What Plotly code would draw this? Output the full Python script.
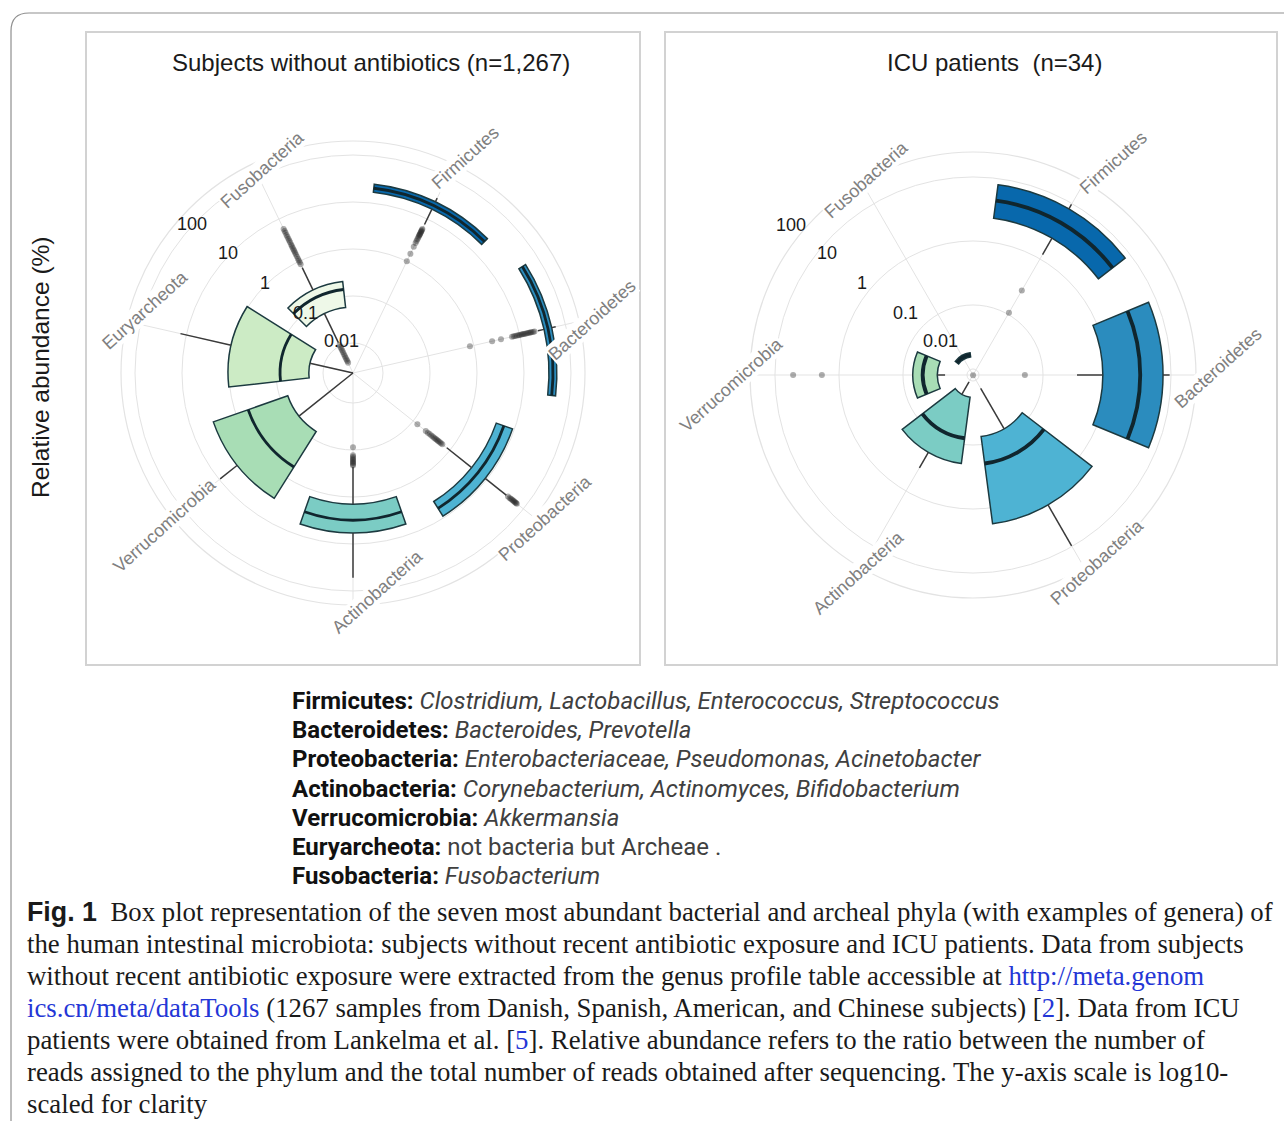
import numpy as np
import plotly.graph_objects as go

W, H = 1284, 1121

# ---------------- data: relative abundance (%) box-plot summaries ----------------
healthy_phyla = ["Firmicutes", "Bacteroidetes", "Proteobacteria", "Actinobacteria",
                 "Verrucomicrobia", "Euryarcheota", "Fusobacteria"]
healthy_whisker_low = [7.4, 25.0, 0.82, 0.23, 0.0023, 0.0023, 0.012]
healthy_q1 = [17.1, 34.0, 3.9, 1.41, 0.068, 0.020, 0.058]
healthy_median = [20.8, 41.4, 5.8, 3.09, 0.53, 0.082, 0.141]
healthy_q3 = [25.4, 50.0, 9.1, 5.84, 3.24, 1.05, 0.209]
healthy_whisker_high = [30.9, 61.0, 34.0, 52.0, 9.5, 13.4, 0.71]

healthy_outliers_firmicutes = [5.8, 5.5, 5.2, 5.0, 4.8, 4.5, 4.3, 4.1, 3.9, 3.6, 3.3, 3.0,
                               2.7, 2.2, 1.5, 1.0]
healthy_outliers_bacteroidetes = [21.0, 19.5, 18.0, 17.0, 16.0, 15.0, 14.0, 13.0, 12.2, 11.5,
                                  10.8, 10.0, 9.4, 8.7, 8.0, 7.4, 6.8, 3.9, 2.5, 0.82]
healthy_outliers_proteobacteria = [0.62, 0.57, 0.53, 0.49, 0.46, 0.43, 0.40, 0.37, 0.34, 0.31,
                                   0.28, 0.25, 0.22, 0.13,
                                   38.0, 42.0, 45.0, 48.0, 51.0, 54.0, 57.0, 60.0, 63.0, 66.0]
healthy_outliers_actinobacteria = [0.215, 0.20, 0.19, 0.18, 0.17, 0.16, 0.15, 0.14, 0.13, 0.087]
healthy_outliers_fusobacteria = [0.85, 0.95, 1.05, 1.15, 1.3, 1.45, 1.6, 1.75, 1.9, 2.1, 2.3,
                                 2.5, 2.8, 3.1, 3.4, 3.8, 4.2, 4.7, 5.2, 5.8,
                                 0.0105, 0.0095, 0.0086, 0.0078, 0.0071, 0.0064, 0.0058,
                                 0.0053, 0.0048, 0.0044, 0.0040, 0.0023]

icu_phyla = ["Firmicutes", "Bacteroidetes", "Proteobacteria", "Actinobacteria",
             "Verrucomicrobia", "Fusobacteria"]
icu_whisker_low = [12.0, 3.4, 0.14, 0.107, 0.22, 0.155]
icu_q1 = [23.7, 8.6, 0.75, 0.18, 0.29, 0.155]
icu_median = [45.0, 33.0, 2.0, 0.8, 0.49, 0.167]
icu_q3 = [80.0, 75.0, 17.8, 2.0, 0.70, 0.18]
icu_whisker_high = [96.0, 95.0, 97.0, 3.8, 0.72, 0.18]
icu_outlier_phylum = ["Firmicutes", "Firmicutes", "Bacteroidetes",
                      "Verrucomicrobia", "Verrucomicrobia", "Proteobacteria"]
icu_outlier_value = [2.7, 1.07, 0.52, 18.5, 52.0, 0.081]

radial_ticks = [0.01, 0.1, 1, 10, 100]
radial_tick_text = ["0.01", "0.1", "1", "10", "100"]

phylum_colors = {
    "Firmicutes": "#0868ac",
    "Bacteroidetes": "#2b8cbe",
    "Proteobacteria": "#4eb3d3",
    "Actinobacteria": "#7bccc4",
    "Verrucomicrobia": "#a8ddb5",
    "Euryarcheota": "#ccebc5",
    "Fusobacteria": "#eef8e8",
}

# ---------------- styling ----------------
GRID = "#e3e3e3"
OUTLINE = "#1c3a40"
MEDIAN = "#10262e"
WHISKER = "#3a3a3a"
SANS = "Liberation Sans, Arial, sans-serif"


def paper(x, y):
    return x / W, 1 - y / H


fig = go.Figure()


def add_boxplot(subplot, phyla, lo, q1, med, q3, hi, out_phyla, out_vals):
    lg = np.log10
    q1l = lg(np.array(q1, float))
    q3l = lg(np.array(q3, float))
    medl = lg(np.array(med, float))
    lol = lg(np.array(lo, float))
    hil = lg(np.array(hi, float))
    n = len(phyla)
    # boxes (interquartile range)
    fig.add_trace(go.Barpolar(
        theta=phyla, base=q1l, r=q3l - q1l, subplot=subplot,
        marker=dict(color=[phylum_colors[p] for p in phyla],
                    line=dict(color=OUTLINE, width=1.5)),
        hoverinfo="skip", showlegend=False))
    # medians drawn as thin dark bars
    half = 0.03
    fig.add_trace(go.Barpolar(
        theta=phyla, base=medl - half, r=[2 * half] * n, subplot=subplot,
        marker=dict(color=MEDIAN, line=dict(width=0)),
        hoverinfo="skip", showlegend=False))
    # whiskers
    th, rr = [], []
    for i, p in enumerate(phyla):
        th += [p, p, p, p, p, p]
        rr += [lol[i], q1l[i], None, q3l[i], hil[i], None]
    fig.add_trace(go.Scatterpolar(
        theta=th, r=rr, mode="lines", subplot=subplot,
        line=dict(color=WHISKER, width=1.5), connectgaps=False,
        hoverinfo="skip", showlegend=False))
    # outliers
    fig.add_trace(go.Scatterpolar(
        theta=out_phyla, r=lg(np.array(out_vals, float)), mode="markers",
        subplot=subplot,
        marker=dict(color="rgba(40,40,40,0.38)", size=6, line=dict(width=0)),
        hoverinfo="skip", showlegend=False))


healthy_outlier_groups = [
    ("Firmicutes", healthy_outliers_firmicutes),
    ("Bacteroidetes", healthy_outliers_bacteroidetes),
    ("Proteobacteria", healthy_outliers_proteobacteria),
    ("Actinobacteria", healthy_outliers_actinobacteria),
    ("Fusobacteria", healthy_outliers_fusobacteria),
]
h_out_phyla = [p for p, vals in healthy_outlier_groups for _ in vals]
h_out_vals = [v for _, vals in healthy_outlier_groups for v in vals]

add_boxplot("polar", healthy_phyla, healthy_whisker_low, healthy_q1, healthy_median,
            healthy_q3, healthy_whisker_high, h_out_phyla, h_out_vals)
add_boxplot("polar2", icu_phyla, icu_whisker_low, icu_q1, icu_median,
            icu_q3, icu_whisker_high, icu_outlier_phylum, icu_outlier_value)


def polar_layout(cx, cy, R, rng, phyla, rotation):
    return dict(
        domain=dict(x=[(cx - R) / W, (cx + R) / W], y=[1 - (cy + R) / H, 1 - (cy - R) / H]),
        bgcolor="rgba(0,0,0,0)",
        barmode="overlay", bargap=0.25,
        radialaxis=dict(range=rng, tickvals=list(np.log10(radial_ticks)),
                        showticklabels=False, ticks="", showline=False,
                        gridcolor=GRID, gridwidth=1.2),
        angularaxis=dict(type="category", categoryorder="array", categoryarray=phyla,
                         direction="clockwise", rotation=rotation,
                         showticklabels=False, ticks="", showline=True,
                         linecolor=GRID, linewidth=1.2, gridcolor=GRID, gridwidth=1.2),
    )


annotations = []

# phylum names around each wheel
label_pos_healthy = {
    "Firmicutes": (465, 158), "Bacteroidetes": (592, 320), "Proteobacteria": (545, 518),
    "Actinobacteria": (377, 592), "Verrucomicrobia": (165, 525),
    "Euryarcheota": (145, 310), "Fusobacteria": (262, 170),
}
label_pos_icu = {
    "Firmicutes": (1113, 163), "Bacteroidetes": (1218, 368), "Proteobacteria": (1097, 562),
    "Actinobacteria": (858, 573), "Verrucomicrobia": (731, 385), "Fusobacteria": (866, 180),
}
for pos in (label_pos_healthy, label_pos_icu):
    for name, (x, y) in pos.items():
        xp, yp = paper(x, y)
        annotations.append(dict(
            x=xp, y=yp, xref="paper", yref="paper", text=name, showarrow=False,
            textangle=-42, xanchor="center", yanchor="middle",
            font=dict(family=SANS, size=18, color="#808080"),
            bgcolor="white", borderpad=0))

# radial scale labels
tick_pos_healthy = [(341, 341), (305, 313), (265, 283), (228, 253), (192, 224)]
tick_pos_icu = [(940, 341), (905, 313), (862, 283), (827, 253), (791, 225)]
for pos in (tick_pos_healthy, tick_pos_icu):
    for txt, (x, y) in zip(radial_tick_text, pos):
        xp, yp = paper(x, y)
        annotations.append(dict(
            x=xp, y=yp, xref="paper", yref="paper", text=txt, showarrow=False,
            xanchor="center", yanchor="middle",
            font=dict(family=SANS, size=18, color="#1a1a1a")))

# panel titles and y-axis title
for txt, (x, y) in [("Subjects without antibiotics (n=1,267)", (371, 63)),
                    ("ICU patients  (n=34)", (994, 63))]:
    xp, yp = paper(x, y)
    annotations.append(dict(x=xp, y=yp, xref="paper", yref="paper", text=txt,
                            showarrow=False, xanchor="center", yanchor="middle",
                            font=dict(family=SANS, size=24, color="#1a1a1a")))
xp, yp = paper(40, 367)
annotations.append(dict(x=xp, y=yp, xref="paper", yref="paper",
                        text="Relative abundance (%)", showarrow=False, textangle=-90,
                        xanchor="center", yanchor="middle",
                        font=dict(family=SANS, size=24.5, color="#1a1a1a")))

# phylum key with example genera
key_lines = [
    "<b>Firmicutes:</b> <i>Clostridium, Lactobacillus, Enterococcus, Streptococcus</i>",
    "<b>Bacteroidetes:</b> <i>Bacteroides, Prevotella</i>",
    "<b>Proteobacteria:</b> <i>Enterobacteriaceae, Pseudomonas, Acinetobacter</i>",
    "<b>Actinobacteria:</b> <i>Corynebacterium, Actinomyces, Bifidobacterium</i>",
    "<b>Verrucomicrobia:</b> <i>Akkermansia</i>",
    "<b>Euryarcheota:</b> not bacteria but Archeae .",
    "<b>Fusobacteria:</b> <i>Fusobacterium</i>",
]
for i, line in enumerate(key_lines):
    xp, yp = paper(290, 701 + 29.2 * i)
    annotations.append(dict(x=xp, y=yp, xref="paper", yref="paper",
                            text=line.replace("<b>", "<b><span style='color:#111111'>")
                                     .replace("</b>", "</span></b>"),
                            showarrow=False, align="left",
                            xanchor="left", yanchor="middle",
                            font=dict(family="Roboto, sans-serif", size=24, color="#404040")))

# figure caption
LINK = "#2436d6"
caption_lines = [
    "<b><span style=\"font-family:'Liberation Sans Narrow','Liberation Sans',sans-serif\">Fig. 1</span></b>"
    "  Box plot representation of the seven most abundant bacterial and archeal phyla (with examples of genera) of",
    "the human intestinal microbiota: subjects without recent antibiotic exposure and ICU patients. Data from subjects",
    "without recent antibiotic exposure were extracted from the genus profile table accessible at "
    f"<span style=\"color:{LINK}\">http://meta.genom</span>",
    f"<span style=\"color:{LINK}\">ics.cn/meta/dataTools</span> (1267 samples from Danish, Spanish, American, and "
    f"Chinese subjects) [<span style=\"color:{LINK}\">2</span>]. Data from ICU",
    f"patients were obtained from Lankelma et al. [<span style=\"color:{LINK}\">5</span>]. Relative abundance "
    "refers to the ratio between the number of",
    "reads assigned to the phylum and the total number of reads obtained after sequencing. The y-axis scale is log10-",
    "scaled for clarity",
]
for i, line in enumerate(caption_lines):
    xp, yp = paper(25, 912 + 32 * i)
    annotations.append(dict(x=xp, y=yp, xref="paper", yref="paper",
                            text=line, showarrow=False, align="left",
                            xanchor="left", yanchor="middle",
                            font=dict(family="Liberation Serif, serif", size=26.8,
                                      color="#1a1a1a")))

# panel frames and outer figure frame
shapes = []
for x0, x1 in [(86, 640), (665, 1277)]:
    a0, b0 = paper(x0, 665)
    a1, b1 = paper(x1, 32)
    shapes.append(dict(type="rect", xref="paper", yref="paper", x0=a0, y0=b0, x1=a1, y1=b1,
                       line=dict(color="#d2d2d2", width=2), fillcolor="rgba(0,0,0,0)",
                       layer="below"))


def pp(x, y):
    a, b = paper(x, y)
    return f"{a:.5f},{b:.5f}"


frame_path = f"M {pp(11, 1121)} L {pp(11, 31)} Q {pp(11, 13)} {pp(29, 13)} L {pp(1284, 13)}"
shapes.append(dict(type="path", xref="paper", yref="paper", path=frame_path,
                   line=dict(color="#8f8f8f", width=1.2)))

fig.update_layout(
    width=W, height=H,
    margin=dict(l=0, r=0, t=0, b=0),
    paper_bgcolor="white", plot_bgcolor="white",
    showlegend=False,
    polar=polar_layout(353, 373, 232, [-2.638, 2.298], healthy_phyla, 64.2857),
    polar2=polar_layout(973, 375, 223, [-1.094, 2.39], icu_phyla, 60),
    annotations=annotations,
    shapes=shapes,
)

fig.write_html("out.html")
